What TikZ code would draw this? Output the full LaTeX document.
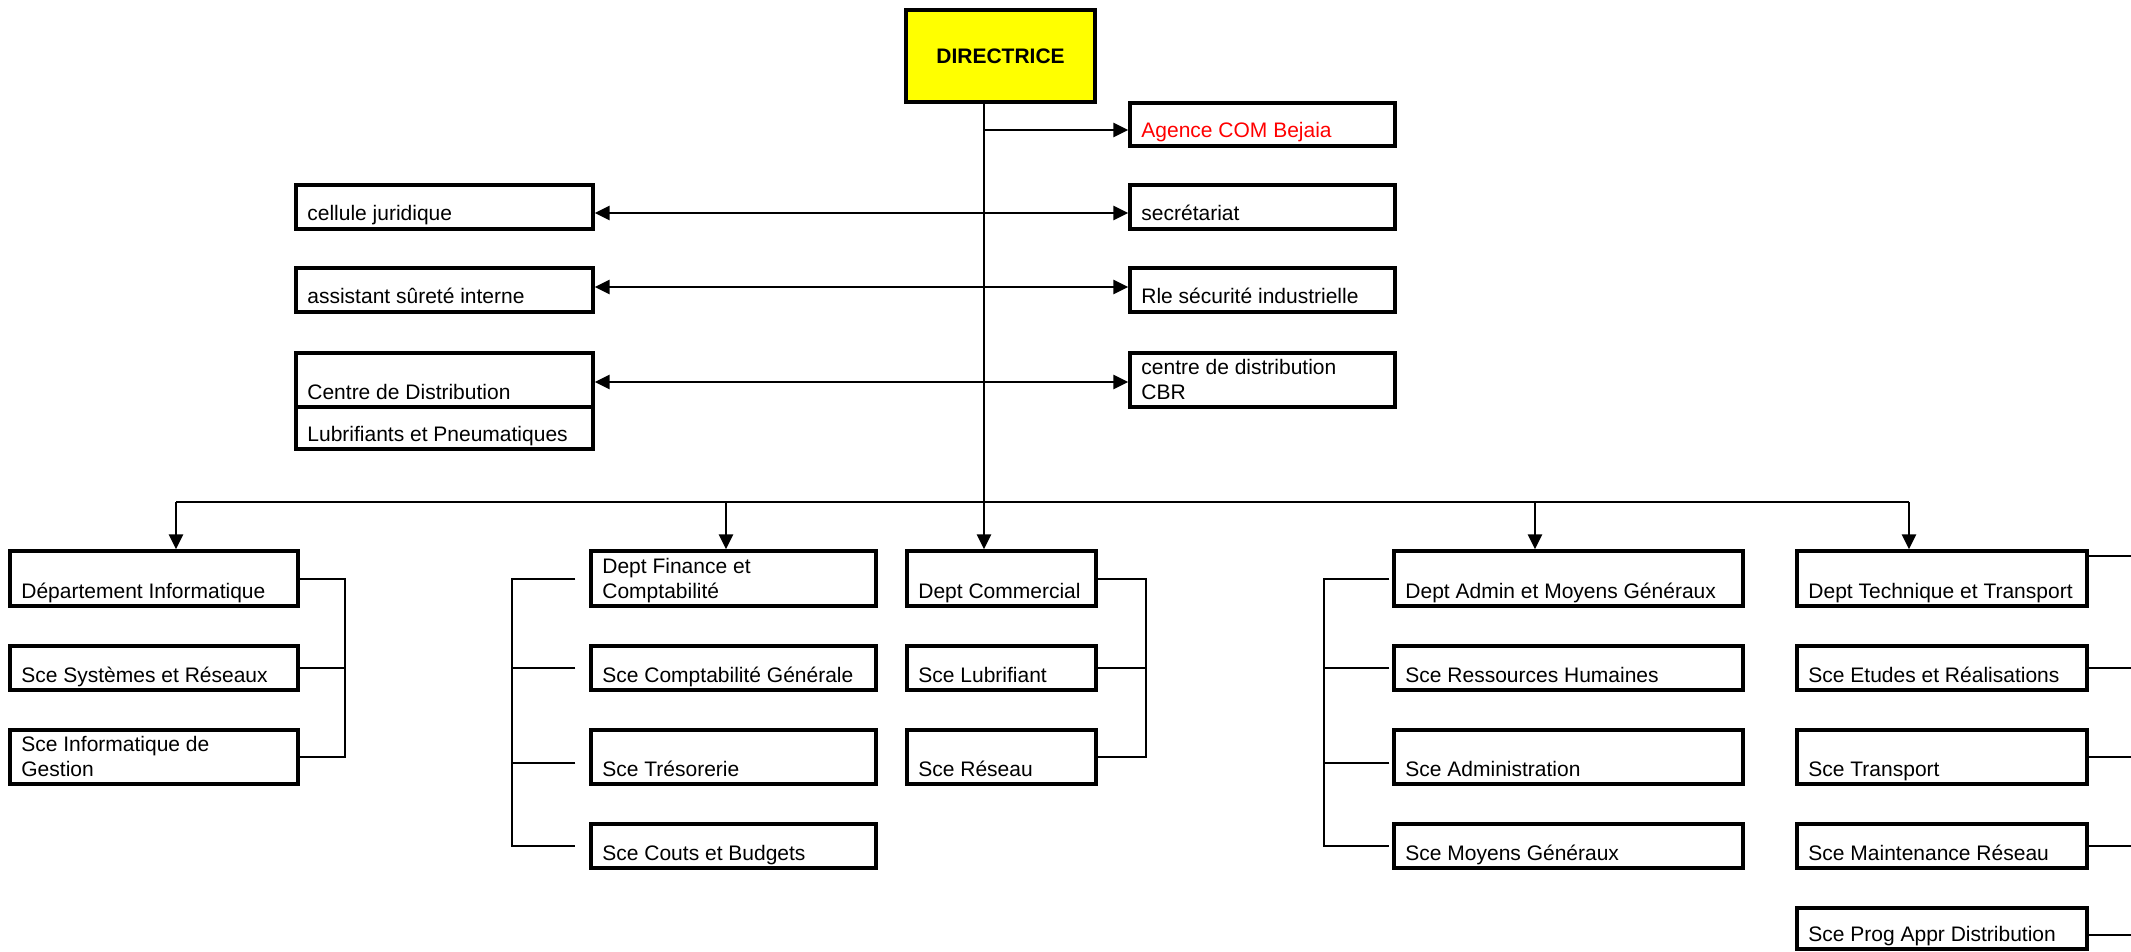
\documentclass[tikz,border=0pt]{standalone}
\usepackage{fontspec}
\setmainfont{Liberation Sans}
\usetikzlibrary{fit,arrows.meta,calc}
\definecolor{diryellow}{RGB}{255,255,0}
\definecolor{agred}{RGB}{255,0,0}
\tikzset{
  box/.style={draw, line width=1.7pt, inner sep=0pt},
  lbl/.style={inner sep=0pt, anchor=base west, font=\fontsize{10.5}{12.25}\selectfont, align=left},
  conn/.style={line width=1pt},
  arr/.style={line width=1.3pt, -{Triangle[length=7.5pt,width=7pt]}},
  darr/.style={line width=1.3pt, {Triangle[length=7.5pt,width=7pt]}-{Triangle[length=7.5pt,width=7pt]}},
}
% name, x1, y1, x2, y2, text (baseline of the last line 8px above bottom)
\newcommand{\obox}[6]{%
  \node[box, fit={(#2,#3) (#4,#5)}] (#1) {};
  \node[lbl] (#1-t) at (#2+11,#5-8) {#6};
}
\begin{document}
\begin{tikzpicture}[x=0.5pt, y=-0.5pt]
\useasboundingbox (0,0) rectangle (2131,952);
\fill[white] (0,0) rectangle (2131,952);
\clip (0,0) rectangle (2131,952);

% top
\node[box, line width=2pt, fill=diryellow, fit={(906,10) (1095,102)}] (dir) {};
\node[inner sep=0pt, font=\fontsize{10.5}{12.25}\selectfont\bfseries] (dir-t) at (dir.center) {DIRECTRICE};
\node[box, fit={(1130,103) (1395,146)}] (ag) {};
\node[lbl, text=agred] (ag-t) at (1141,138) {Agence COM Bejaia};

\obox{cj}{296}{185}{593}{229}{cellule juridique}
\obox{as}{296}{268}{593}{312}{assistant sûreté interne}
\obox{cd}{296}{353}{593}{407}{Centre de Distribution}
\obox{lp}{296}{407}{593}{449}{Lubrifiants et Pneumatiques}
\obox{sec}{1130}{185}{1395}{229}{secrétariat}
\obox{rle}{1130}{268}{1395}{312}{Rle sécurité industrielle}
\obox{cbr}{1130}{353}{1395}{407}{centre de distribution\\CBR}

% column 1
\obox{info}{10}{551}{298}{606}{Département Informatique}
\obox{sys}{10}{646}{298}{690}{Sce Systèmes et Réseaux}
\obox{sig}{10}{730}{298}{784}{Sce Informatique de\\Gestion}
% column 2
\obox{fin}{591}{551}{876}{606}{Dept Finance et\\Comptabilité}
\obox{cg}{591}{646}{876}{690}{Sce Comptabilité Générale}
\obox{tre}{591}{730}{876}{784}{Sce Trésorerie}
\obox{cb}{591}{824}{876}{868}{Sce Couts et Budgets}
% column 3
\obox{com}{907}{551}{1096}{606}{Dept Commercial}
\obox{lub}{907}{646}{1096}{690}{Sce Lubrifiant}
\obox{res}{907}{730}{1096}{784}{Sce Réseau}
% column 4
\obox{adm}{1394}{551}{1743}{606}{Dept Admin et Moyens Généraux}
\obox{rh}{1394}{646}{1743}{690}{Sce Ressources Humaines}
\obox{admi}{1394}{730}{1743}{784}{Sce Administration}
\obox{mg}{1394}{824}{1743}{868}{Sce Moyens Généraux}
% column 5
\obox{tech}{1797}{551}{2087}{606}{Dept Technique et Transport}
\obox{etu}{1797}{646}{2087}{690}{Sce Etudes et Réalisations}
\obox{tra}{1797}{730}{2087}{784}{Sce Transport}
\obox{mai}{1797}{824}{2087}{868}{Sce Maintenance Réseau}
\obox{prog}{1797}{908}{2087}{949}{Sce Prog Appr Distribution}

% trunk and upper connectors
\coordinate (tx) at (984,0);
\coordinate (yA) at (0,130);
\coordinate (y1) at (0,213);
\coordinate (y2) at (0,287);
\coordinate (y3) at (0,382);
\draw[arr] (dir.south -| tx) -- (com.north -| tx);
\draw[arr] (yA -| tx) -- (ag.west |- yA);
\draw[darr] (cj.east |- y1) -- (sec.west |- y1);
\draw[darr] (as.east |- y2) -- (rle.west |- y2);
\draw[darr] (cd.east |- y3) -- (cbr.west |- y3);

% bus
\coordinate (b1) at (176,502);
\coordinate (b2) at (726,502);
\coordinate (b4) at (1535,502);
\coordinate (b5) at (1909,502);
\draw[conn] (b1) -- (b5);
\draw[arr] (b1) -- (info.north -| b1);
\draw[arr] (b2) -- (fin.north -| b2);
\draw[arr] (b4) -- (adm.north -| b4);
\draw[arr] (b5) -- (tech.north -| b5);

% bracket column 1
\coordinate (k1) at (345,0);
\draw[conn] (info.east) -- (info.east -| k1) -- (sig.east -| k1) -- (sig.east);
\draw[conn] (sys.east) -- (sys.east -| k1);
% bracket column 2
\coordinate (k2) at (512,0);
\coordinate (fin-s) at ([shift={(-14,0)}]fin.west);
\coordinate (cg-s) at ([shift={(-14,0)}]cg.west);
\coordinate (tre-s) at ([shift={(-14,6)}]tre.west);
\coordinate (cb-s) at ([shift={(-14,0)}]cb.west);
\draw[conn] (fin-s) -- (fin-s -| k2) -- (cb-s -| k2) -- (cb-s);
\draw[conn] (cg-s) -- (cg-s -| k2);
\draw[conn] (tre-s) -- (tre-s -| k2);
% bracket column 3
\coordinate (k3) at (1146,0);
\draw[conn] (com.east) -- (com.east -| k3) -- (res.east -| k3) -- (res.east);
\draw[conn] (lub.east) -- (lub.east -| k3);
% bracket column 4
\coordinate (k4) at (1324,0);
\coordinate (adm-s) at ([shift={(-3,0)}]adm.west);
\coordinate (rh-s) at ([shift={(-3,0)}]rh.west);
\coordinate (admi-s) at ([shift={(-3,6)}]admi.west);
\coordinate (mg-s) at ([shift={(-3,0)}]mg.west);
\draw[conn] (adm-s) -- (adm-s -| k4) -- (mg-s -| k4) -- (mg-s);
\draw[conn] (rh-s) -- (rh-s -| k4);
\draw[conn] (admi-s) -- (admi-s -| k4);
% column 5 stubs to the right edge
\coordinate (edge) at (2150,0);
\coordinate (tech-s) at ([shift={(0,-23)}]tech.east);
\coordinate (prog-s) at ([shift={(0,6)}]prog.east);
\draw[conn] (tech-s) -- (tech-s -| edge);
\draw[conn] (etu.east) -- (etu.east -| edge);
\draw[conn] (tra.east) -- (tra.east -| edge);
\draw[conn] (mai.east) -- (mai.east -| edge);
\draw[conn] (prog-s) -- (prog-s -| edge);
\end{tikzpicture}
\end{document}
